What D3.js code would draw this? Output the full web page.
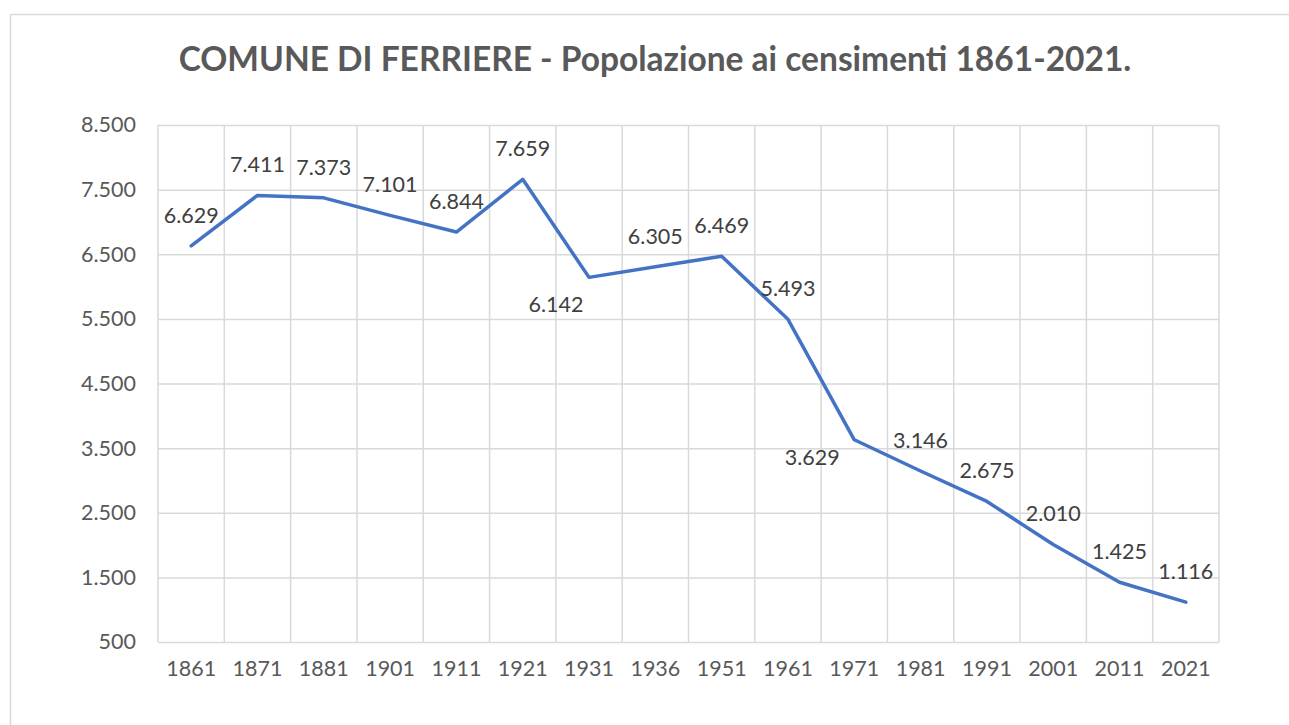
<!DOCTYPE html>
<html>
<head>
<meta charset="utf-8">
<script src="https://cdn.jsdelivr.net/npm/d3@7"></script>
<style>
  body { margin: 0; background: #fff; }
  svg { display: block; font-family: Lato, "Open Sans", sans-serif; }
</style>
</head>
<body>
<svg id="chart"></svg>
<script>
const WIDTH = 1289;
const HEIGHT = 725;

// data
const years = ["1861", "1871", "1881", "1901", "1911", "1921", "1931", "1936",
  "1951", "1961", "1971", "1981", "1991", "2001", "2011", "2021"];
const population = [6629, 7411, 7373, 7101, 6844, 7659, 6142, 6305,
  6469, 5493, 3629, 3146, 2675, 2010, 1425, 1116];
// where each data label sits relative to its point
const labelPlace = ["above", "above", "above", "above", "above", "above", "belowLeft", "above",
  "above", "above", "left", "above", "above", "above", "above", "above"];
const yTicks = [500, 1500, 2500, 3500, 4500, 5500, 6500, 7500, 8500];

const margin = { top: 125, right: 70, bottom: 83, left: 158 };
const FONT = 21.5;

const svg = d3.select("#chart").attr("width", WIDTH).attr("height", HEIGHT);

// outer chart border
svg.append("rect")
  .attr("x", 10.5).attr("y", 14.5)
  .attr("width", 1320).attr("height", 740)
  .attr("fill", "none")
  .attr("stroke", "#d9d9d9")
  .attr("stroke-width", 1.5);

svg.append("text")
  .attr("x", 655).attr("y", 71)
  .attr("text-anchor", "middle")
  .attr("font-size", 33.5)
  .attr("font-weight", "bold")
  .attr("fill", "#595959")
  .text("COMUNE DI FERRIERE - Popolazione ai censimenti 1861-2021.");

const xScale = d3.scaleBand()
  .domain(years)
  .range([margin.left, WIDTH - margin.right])
  .padding(0);

const yScale = d3.scaleLinear()
  .domain([500, 8500])
  .range([HEIGHT - margin.bottom, margin.top]);

// horizontal gridlines + y labels
const yAxis = d3.axisLeft(yScale)
  .tickValues(yTicks)
  .tickFormat((d) => d3.format(",")(d).replace(/,/g, "."))
  .tickSize(-(WIDTH - margin.left - margin.right))
  .tickPadding(22);

const gy = svg.append("g")
  .attr("transform", "translate(" + margin.left + ",0)")
  .call(yAxis);
gy.select(".domain").remove();
gy.selectAll("line").attr("stroke", "#d9d9d9").attr("stroke-width", 1.5);
gy.selectAll("text")
  .attr("font-size", FONT)
  .attr("fill", "#595959")
  .attr("font-family", "Lato, sans-serif");

// vertical gridlines at category boundaries
const bounds = years.map((y) => xScale(y)).concat([xScale.range()[1]]);
svg.append("g")
  .selectAll("line")
  .data(bounds)
  .enter()
  .append("line")
  .attr("x1", (d) => d).attr("x2", (d) => d)
  .attr("y1", yScale(8500)).attr("y2", yScale(500))
  .attr("stroke", "#d9d9d9")
  .attr("stroke-width", 1.5);

// x labels
const xAxis = d3.axisBottom(xScale).tickSize(0).tickPadding(19);
const gx = svg.append("g")
  .attr("transform", "translate(0," + (HEIGHT - margin.bottom) + ")")
  .call(xAxis);
gx.select(".domain").remove();
gx.selectAll("text")
  .attr("font-size", FONT)
  .attr("fill", "#595959")
  .attr("font-family", "Lato, sans-serif");

const cx = (i) => xScale(years[i]) + xScale.bandwidth() / 2;

const line = d3.line()
  .x((d, i) => cx(i))
  .y((d) => yScale(d));

svg.append("path")
  .datum(population)
  .attr("d", line)
  .attr("fill", "none")
  .attr("stroke", "#4472c4")
  .attr("stroke-width", 3.5)
  .attr("stroke-linejoin", "round")
  .attr("stroke-linecap", "round");

const offsets = {
  above: [0, -31],
  belowLeft: [-33, 27],
  left: [-42, 17],
};

svg.append("g")
  .selectAll("text")
  .data(population)
  .enter()
  .append("text")
  .attr("x", (d, i) => cx(i) + offsets[labelPlace[i]][0])
  .attr("y", (d, i) => yScale(d) + offsets[labelPlace[i]][1])
  .attr("dy", "0.36em")
  .attr("text-anchor", "middle")
  .attr("font-size", FONT)
  .attr("fill", "#404040")
  .text((d) => d3.format(",")(d).replace(/,/g, "."));
</script>
</body>
</html>
